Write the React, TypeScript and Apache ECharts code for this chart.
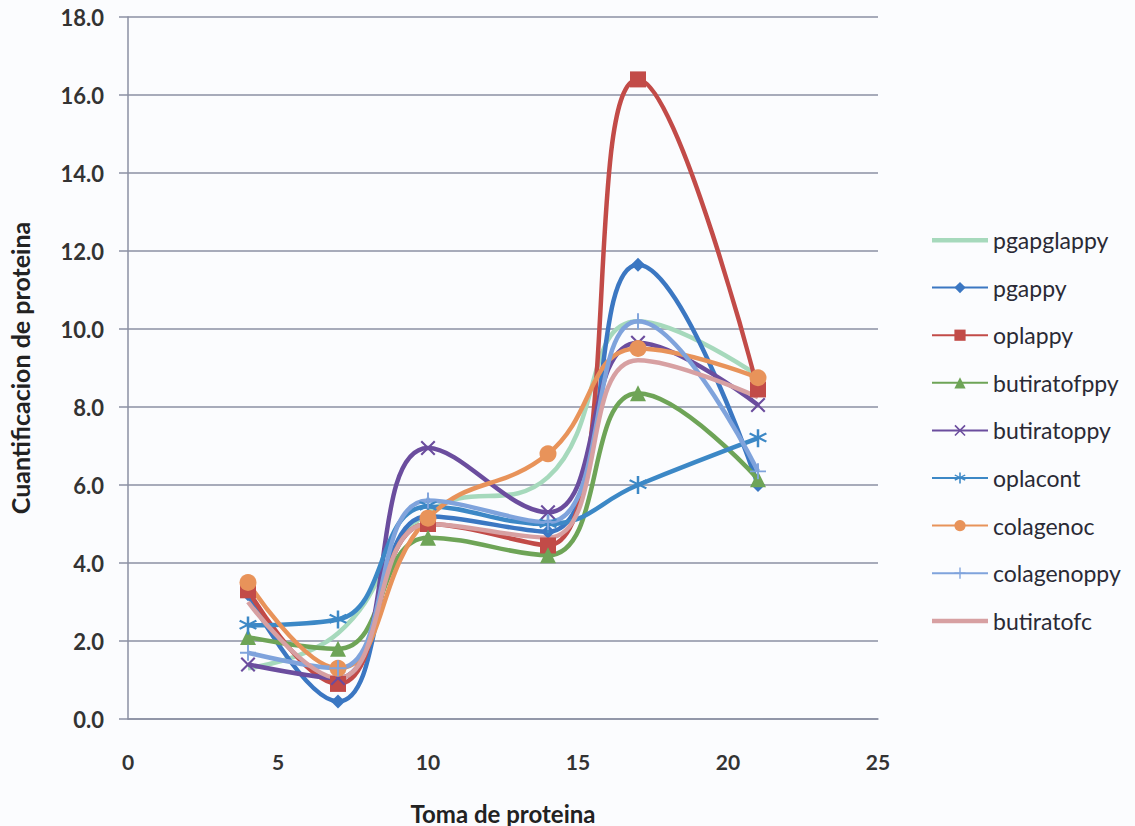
import React, { useEffect, useRef } from "react";
import * as echarts from "echarts";

const xValues = [4, 7, 10, 14, 17, 21];
const seriesNames = ["pgapglappy", "pgappy", "oplappy", "butiratofppy", "butiratoppy", "oplacont", "colagenoc", "colagenoppy", "butiratofc"];
const pgapglappy = [1.3, 2.2, 5.3, 6.2, 10.2, 8.8];
const pgappy = [3.2, 0.45, 5.2, 4.8, 11.65, 6.0];
const oplappy = [3.3, 0.9, 5.0, 4.45, 16.4, 8.45];
const butiratofppy = [2.1, 1.8, 4.65, 4.2, 8.35, 6.15];
const butiratoppy = [1.4, 1.05, 6.95, 5.3, 9.65, 8.05];
const oplacont = [2.4, 2.55, 5.45, 5.0, 6.0, 7.2];
const colagenoc = [3.5, 1.3, 5.15, 6.8, 9.5, 8.75];
const colagenoppy = [1.7, 1.3, 5.6, 5.05, 10.2, 6.35];
const butiratofc = [3.0, 1.05, 5.0, 4.65, 9.2, 8.25];
const seriesValues = [pgapglappy, pgappy, oplappy, butiratofppy, butiratoppy, oplacont, colagenoc, colagenoppy, butiratofc];
const colors = ["#a6d9bc", "#3b77c2", "#c24b48", "#6ea457", "#6b4d9e", "#3c88c6", "#e8935a", "#7fa3dc", "#d7a0a2"];
const yTicks = [0, 2, 4, 6, 8, 10, 12, 14, 16, 18];

const X_PATH = "path://M1,0 L5,4 L9,0 L10,1 L6,5 L10,9 L9,10 L5,6 L1,10 L0,9 L4,5 L0,1 Z";
const AST_PATH = "path://M4.4,0 L5.6,0 L5.6,3.6 L8.7,1.8 L9.3,2.8 L6.2,4.6 L9.3,6.4 L8.7,7.4 L5.6,5.6 L5.6,10 L4.4,10 L4.4,5.6 L1.3,7.4 L0.7,6.4 L3.8,4.6 L0.7,2.8 L1.3,1.8 L4.4,3.6 Z";
const PLUS_PATH = "path://M4.4,0 L5.6,0 L5.6,4.4 L10,4.4 L10,5.6 L5.6,5.6 L5.6,10 L4.4,10 L4.4,5.6 L0,5.6 L0,4.4 L4.4,4.4 Z";
const LINE_ICON = "path://M0,0 L0.05,0 L0.05,0.05 Z M0,5 L56,5 L56,9.5 L0,9.5 Z M0,14 L0.05,14 L0.05,13.95 Z";
const symbols = ["none", "diamond", "rect", "triangle", X_PATH, AST_PATH, "circle", PLUS_PATH, "none"];
const symbolSizes = [0, 14, 16, 16, 15, 18, 17, 16, 0];

export default function App() {
  const ref = useRef<HTMLDivElement>(null);
  useEffect(() => {
    const chart = echarts.init(ref.current!, null, { renderer: "svg" });
    const font = "Lato, 'Open Sans', sans-serif";
    const axisGrey = "#8b90a3";
    chart.setOption({
      animation: false,
      backgroundColor: "#fbfcfe",
      grid: { left: 128, right: 257, top: 17, bottom: 107, containLabel: false, outerBoundsMode: "none" },
      xAxis: {
        type: "value",
        min: 0,
        max: 25,
        interval: 5,
        axisLine: { show: true, onZero: false, lineStyle: { color: axisGrey, width: 1.5 } },
        axisTick: { show: false },
        splitLine: { show: false },
        axisLabel: { color: "#333", fontSize: 21, fontWeight: "bold", fontFamily: font, margin: 32 },
        name: "Toma de proteina",
        nameLocation: "middle",
        nameGap: 82,
        nameTextStyle: { color: "#222", fontSize: 24, lineHeight: 24, fontWeight: "bold", fontFamily: font },
      },
      yAxis: {
        type: "value",
        min: 0,
        max: 18,
        interval: 2,
        axisLine: { show: true, lineStyle: { color: axisGrey, width: 1.5 } },
        axisTick: { show: true, length: 9, lineStyle: { color: axisGrey, width: 1.5 } },
        splitLine: { lineStyle: { color: axisGrey, width: 1.5 } },
        axisLabel: {
          color: "#333",
          fontSize: 22,
          fontFamily: font,
          fontWeight: "bold",
          margin: 24,
          formatter: (v: number) => (yTicks.includes(v) ? v.toFixed(1) : ""),
        },
        name: "Cuantificacion de proteina",
        nameLocation: "middle",
        nameGap: 96,
        nameTextStyle: { color: "#222", fontSize: 25, lineHeight: 25, fontWeight: "bold", fontFamily: font },
      },
      legend: {
        orient: "vertical",
        left: 926,
        top: 223,
        itemGap: 23.6,
        itemWidth: 56,
        itemHeight: 14,
        textStyle: { color: "#2a2a35", fontSize: 23, lineHeight: 24, fontFamily: font },
        data: seriesNames.map((name, i) => (symbols[i] === "none" ? { name, icon: LINE_ICON } : { name })),
      },
      series: seriesNames.map((name, i) => ({
        name,
        type: "line",
        smooth: 0.45,
        data: xValues.map((x, j) => [x, seriesValues[i][j]]),
        symbol: symbols[i],
        symbolSize: symbolSizes[i],
        showSymbol: symbols[i] !== "none",
        color: colors[i],
        lineStyle: { color: colors[i], width: 4.5 },
        itemStyle: { color: colors[i] },
      })),
    });
    return () => chart.dispose();
  }, []);
  return <div ref={ref} style={{ position: "absolute", left: 0, top: 0, width: 1135, height: 826 }} />;
}
